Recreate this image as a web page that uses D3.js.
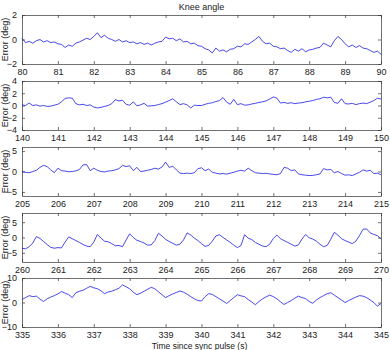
<!DOCTYPE html>
<html>
<head>
<meta charset="utf-8">
<script src="https://cdn.jsdelivr.net/npm/d3@7/dist/d3.min.js"></script>
<style>
  html, body { margin: 0; padding: 0; background: #fff; }
  svg { display: block; font-family: "Liberation Sans", Arial, sans-serif; }
  .axis text { font-size: 9px; fill: #222; }
  .axis path, .axis line { stroke: #333; stroke-width: 0.7; }
</style>
</head>
<body>
<svg id="chart" width="390" height="350"></svg>
<script>
const title = "Knee angle";
const yLabel = "Error (deg)";
const xLabel = "Time since sync pulse (s)";
const STEP = 0.1;

const starts = [80, 140, 205, 260, 335];
const yLimits = [[-2, 2], [-4, 4], [-6, 6], [-8, 8], [-10, 10]];
const yTicks = [[-2, 0, 2], [-4, -2, 0, 2, 4], [-5, 0, 5], [-5, 0, 5], [-10, 0, 10]];

const series80 = [
  0.1, -0.25, -0.15, -0.3, -0.1, 0.0, -0.2, -0.1, -0.25, -0.2,
  -0.35, -0.4, -0.65, -0.45, -0.55, -0.3, -0.2, -0.05, 0.1, 0.0,
  0.25, 0.55, 0.15, 0.35, 0.1, 0.0, -0.15, 0.0, -0.2, -0.1,
  -0.25, -0.2, -0.35, -0.25, -0.4, -0.3, -0.45, -0.3, -0.2, -0.15,
  0.2, 0.05, 0.1, -0.1, 0.05, -0.2, -0.15, -0.35, -0.3, -0.5,
  -0.55, -0.75, -0.85, -1.1, -0.7, -0.95, -0.85, -1.0, -0.8, -0.75,
  -0.55, -0.6, -0.35, -0.4, -0.2, 0.0, 0.25, -0.15, -0.35, -0.3,
  -0.55, -0.6, -0.75, -0.7, -0.9, -1.05, -0.8, -0.95, -0.75, -1.0,
  -0.85, -0.8, -0.7, -0.65, -0.3, -0.45, -0.6, -0.1, 0.25, 0.0,
  -0.35, -0.6, -0.45, -0.65, -0.5, -0.7, -0.75, -0.9, -1.05, -0.95,
  -1.2
];

const series140 = [
  0.1, 0.0, 0.4, 0.0, 0.1, -0.1, 0.0, -0.15, -0.1, 0.05,
  0.2, 0.6, 1.15, 1.25, 1.2, 0.3, 0.1, 0.2, 0.0, 0.1,
  -0.25, -0.4, -0.3, -0.15, 0.0, 0.3, 0.95, 0.75, 0.85, 0.2,
  0.05, 0.6, -0.05, 0.1, 0.35, -0.1, -0.05, 0.0, 0.15, 0.3,
  0.55, 0.8, 1.1, 0.6, 0.15, 0.3, 0.1, -0.4, 0.05, 0.0,
  0.0, 0.2, 0.35, 0.45, 0.65, 0.8, 1.3, 0.55, 0.2, 1.0,
  0.15, 0.3, 0.05, 0.1, 0.25, 0.35, 0.5, 0.6, 0.75, 1.05,
  1.4, 1.2, 0.4, 0.5, 0.35, 0.45, 0.3, 0.4, 0.45, 0.6,
  0.7, 0.8, 1.0, 1.1, 1.35, 1.25, 1.35, 0.5, 0.35, 1.1,
  0.3, 0.25, 0.35, 0.15, 0.3, 0.4, 0.3, 0.55, 0.8, 1.2,
  1.05
];

const series205 = [
  0.0, -0.2, -0.3, 0.0, 0.3, 1.0, 1.5, 1.2, 0.4, -0.3,
  0.8, 0.2, 0.1, -0.05, 0.0, 0.15, 0.5, 1.6, 1.7, 0.2,
  0.8, 0.3, 0.0, -0.1, 0.1, 0.2, 0.4, 0.7, 1.5, 1.2,
  1.4, 0.2, 1.0, 0.0, 0.1, 0.3, 0.5, 0.8, 0.6, 1.1,
  2.3, 1.0, 1.3, 0.4, -0.4, -0.5, -0.4, -0.5, -0.3, 0.7,
  0.9, 0.2, 0.6, -0.2, -0.4, -0.6, -0.5, -0.65, -0.4, -0.2,
  0.1, 0.3, 0.1, 0.8, 0.2, -0.3, -0.4, -0.5, -0.45, -0.6,
  -0.7, -0.8, -0.5, 1.0, 0.8, 0.2, 0.4, -0.6, -0.8, -0.9,
  -1.0, -0.95, -0.8, -0.6, 0.7, 0.4, 0.5, -0.3, 0.0, -0.5,
  -0.9, -0.8, -1.0, -0.6, -0.2, 0.4, 0.1, 0.3, -0.5, -0.4,
  -0.8
];

const series260 = [
  -3.5, -3.7, -3.0, -1.8, 0.3, -0.3, -1.3, -2.3, -3.2, -3.5,
  -3.3, -3.4, -1.5, 0.2, -0.4, -1.0, -1.6, -2.3, -2.8, -3.0,
  -1.5, 1.0, -0.2, -1.2, -1.4, -2.0, -2.7, -2.6, -3.0, -0.8,
  1.2, 0.0, -0.9, -1.3, -1.8, -2.5, -2.4, -1.0, 1.4, 0.5,
  -0.6, -1.3, -1.9, -2.5, -2.2, -0.8, 1.5, 0.8, -0.2, -1.0,
  -2.0, -2.9, -2.6, -1.2, 0.5, 0.9, 0.0, -0.8, -1.6, -2.5,
  -3.3, -2.6, 0.9, -0.2, -0.7, -1.6, -2.2, -2.8, -3.0, -2.2,
  -0.3, 0.8, -0.4, -1.0, -1.6, -2.2, -2.8, -2.4, -0.5, 1.0,
  -0.1, -0.5, -1.2, -2.2, -3.0, -2.6, -0.6, 1.7, 0.8, -0.4,
  -1.0, -1.5, -2.0, -1.2, 0.6, 2.7, 2.8, 1.5, 1.0, 0.6,
  -0.5
];

const series335 = [
  1.2, 2.0, 2.8, 2.4, 2.6, 1.4, 0.4, 1.5, 2.2, 2.8,
  3.5, 4.5, 3.8, 3.2, 2.0, 4.0, 4.6, 5.0, 5.8, 6.6,
  6.0, 5.6, 4.8, 3.6, 4.3, 4.6, 5.2, 5.8, 7.2, 6.4,
  5.6, 4.2, 3.2, 3.8, 4.6, 5.4, 6.2, 5.6, 4.4, 3.2,
  2.0, 2.8, 3.5, 4.1, 4.7, 4.2, 3.4, 2.4, 1.5, 0.8,
  0.6, 2.4, 3.6, 3.3, 2.4, 1.5, 0.6, -0.4, 0.8, 2.0,
  3.2, 2.7, 2.4, 1.2, 0.2, -0.9, 0.4, 1.5, 2.3, 3.0,
  2.4, 1.5, 0.3, -0.8, 0.0, 0.8, 1.8, 2.6, 2.0, 1.6,
  0.4, -0.3, 1.0, 2.0, 2.8, 3.6, 4.0, 3.0, 2.0, 1.0,
  0.0, 0.8, 1.5, 2.2, 2.8, 2.6, 2.0, 1.0, 0.0, -1.5,
  -0.4
];

const allSeries = [series80, series140, series205, series260, series335];

// layout
const LEFT = 22, RIGHT = 381;
const tops = [15, 81, 147, 213, 278];
const PANEL_H = 49;
const TICK = 3;

const svg = d3.select("#chart");

svg.append("text")
  .attr("x", (LEFT + RIGHT) / 2)
  .attr("y", 10)
  .attr("text-anchor", "middle")
  .style("font-size", "9px")
  .attr("fill", "#222")
  .text(title);

allSeries.forEach((values, p) => {
  const t0 = starts[p];
  const top = tops[p], bottom = top + PANEL_H;

  const x = d3.scaleLinear().domain([t0, t0 + 10]).range([LEFT, RIGHT]);
  const y = d3.scaleLinear().domain(yLimits[p]).range([bottom, top]);
  const xTickVals = d3.range(t0, t0 + 11, 1);

  const g = svg.append("g");

  // bottom axis with labels, ticks pointing inwards
  g.append("g").attr("class", "axis")
    .attr("transform", `translate(0,${bottom})`)
    .call(d3.axisBottom(x).tickValues(xTickVals).tickFormat(d3.format("d"))
      .tickSizeInner(-TICK).tickSizeOuter(0).tickPadding(2 + TICK))
    .call(a => a.selectAll("text").attr("dy", "0.71em"));

  g.append("g").attr("class", "axis")
    .attr("transform", `translate(0,${top})`)
    .call(d3.axisTop(x).tickValues(xTickVals).tickFormat("")
      .tickSizeInner(-TICK).tickSizeOuter(0));

  g.append("g").attr("class", "axis")
    .attr("transform", `translate(${LEFT},0)`)
    .call(d3.axisLeft(y).tickValues(yTicks[p]).tickFormat(d3.format("d"))
      .tickSizeInner(-TICK).tickSizeOuter(0).tickPadding(2 + TICK));

  g.append("g").attr("class", "axis")
    .attr("transform", `translate(${RIGHT},0)`)
    .call(d3.axisRight(y).tickValues(yTicks[p]).tickFormat("")
      .tickSizeInner(-TICK).tickSizeOuter(0));

  const line = d3.line()
    .x((d, i) => x(t0 + i * STEP))
    .y(d => y(d));

  g.append("path")
    .datum(values)
    .attr("fill", "none")
    .attr("stroke", "#1a1ae6")
    .attr("stroke-width", 0.8)
    .attr("stroke-linejoin", "round")
    .attr("d", line);

  g.append("text")
    .attr("transform", `translate(8,${(top + bottom) / 2}) rotate(-90)`)
    .attr("text-anchor", "middle")
    .style("font-size", "9px")
    .attr("fill", "#222")
    .text(yLabel);
});

// the reference has this label right at the bottom edge
svg.append("text")
  .attr("x", (LEFT + RIGHT) / 2 - 2)
  .attr("y", 348.5)
  .attr("text-anchor", "middle")
  .style("font-size", "8.5px")
  .attr("fill", "#222")
  .text(xLabel);
</script>
</body>
</html>
